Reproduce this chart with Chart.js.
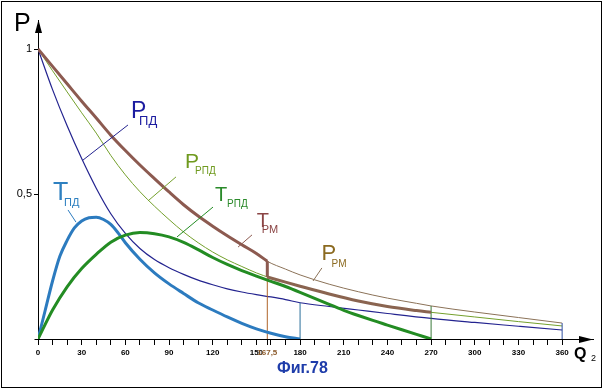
<!DOCTYPE html>
<html><head><meta charset="utf-8">
<script src="https://cdn.jsdelivr.net/npm/chart.js@4/dist/chart.umd.min.js"></script>
<style>html,body{margin:0;padding:0;background:#fff;}#wrap{width:606px;height:391px;}</style>
</head><body><div id="wrap"><canvas id="c" width="606" height="391"></canvas></div>
<script>
// ---------- data ----------
const qPD  = [0,10,20,30,40,50,60,70,80,90,100,110,120,130,140,150,160,170,180,200,220,240,270,300,330,360];
const pPD  = [1,0.86,0.735,0.622,0.52,0.432,0.364,0.312,0.274,0.246,0.223,0.203,0.187,0.173,0.162,0.153,0.145,0.136,0.125,0.112,0.1,0.088,0.071,0.057,0.044,0.031];

const qRPD = [0,10,20,30,40,50,60,70,80,90,100,110,120,130,140,150,160,170,180,200,220,240,260,270,300,330,360];
const pRPD = [1,0.925,0.852,0.78,0.71,0.633,0.566,0.508,0.458,0.412,0.369,0.332,0.3,0.273,0.25,0.228,0.21,0.196,0.182,0.155,0.131,0.112,0.098,0.092,0.076,0.06,0.045];

const qTPD = [0,5,10,15,20,25,30,35,40,45,50,55,60,70,80,90,100,110,120,130,140,150,160,170,180];
const tPD  = [0,0.1,0.2,0.285,0.34,0.383,0.407,0.418,0.42,0.412,0.395,0.366,0.332,0.275,0.228,0.19,0.157,0.125,0.1,0.076,0.054,0.035,0.02,0.008,0];

const qTRPD = [0,10,20,30,40,50,60,70,80,90,100,110,120,130,140,150,160,170,180,190,200,210,220,230,240,250,260,270];
const tRPD  = [0,0.1,0.18,0.243,0.292,0.334,0.358,0.367,0.363,0.352,0.333,0.308,0.281,0.257,0.236,0.217,0.199,0.181,0.161,0.14,0.119,0.099,0.081,0.064,0.048,0.032,0.016,0];

const qTRMa = [0,10,20,30,40,50,60,70,80,90,100,110,120,130,140,150,157.5];
const tRMa  = [1,0.94,0.88,0.82,0.762,0.703,0.65,0.6,0.553,0.507,0.463,0.424,0.389,0.356,0.325,0.295,0.268];

const qTRMb = [157.5,170,180,200,220,240,260,270];
const tRMb  = [0.214,0.196,0.182,0.155,0.131,0.112,0.098,0.092];

const qPRM = qTRMa.concat([170,180,200,220,240,260,270,300,330,360]);
const pRM  = tRMa.concat([0.241,0.221,0.189,0.163,0.141,0.123,0.114,0.093,0.074,0.055]);

const cutX = 157.5;             // position of the "167,5" mark as drawn
const cutLabel = '167,5';
const vLines = [cutX, 180, 270, 360];
const xTickValues = [0,10,20,30,40,50,60,70,80,90,100,110,120,130,140,150,cutX,160,170,180,190,200,210,220,230,240,250,260,270,280,290,300,310,320,330,340,350,360];
const xLabelValues = [0,30,60,90,120,150,180,210,240,270,300,330,360];
const yTickValues = [0.5, 1];

// ---------- helpers ----------
const pts = (qs, vs) => qs.map((q, i) => ({x: q, y: vs[i]}));
const valAt = (qs, vs, q) => vs[qs.indexOf(q)];
const FONT = 'Liberation Sans';

function line(data, color, width, order, smooth = true) {
  return {data, borderColor: color, borderWidth: width, order, pointRadius: 0, fill: false,
          tension: 0, cubicInterpolationMode: smooth ? 'monotone' : 'default', spanGaps: true};
}

const datasets = [
  line(pts(qPRM, pRM), '#8b7258', 1, 9),
  line(pts(qRPD, pRPD), '#74a02c', 1, 8),
  line(pts(qPD, pPD), '#23238f', 1.2, 7),
  line([{x:cutX,y:0},{x:cutX,y:valAt(qTRMa,tRMa,cutX)}], '#b0652a', 1, 6, false),
  line([{x:vLines[1],y:0},{x:vLines[1],y:valAt(qPD,pPD,vLines[1])}], '#2a6f9a', 1, 6, false),
  line([{x:vLines[2],y:0},{x:vLines[2],y:valAt(qPRM,pRM,vLines[2])}], '#3a7a3a', 1, 6, false),
  line([{x:vLines[3],y:0},{x:vLines[3],y:valAt(qPRM,pRM,vLines[3])}], '#3050a0', 1, 6, false),
  line(pts(qTPD, tPD), '#2c7bbf', 3, 3),
  line(pts(qTRPD, tRPD), '#238c23', 3, 2),
  line(pts(qTRMb, tRMb), '#8a6450', 3, 1),
  line([{x:cutX,y:valAt(qTRMa,tRMa,cutX)},{x:cutX,y:tRMb[0]}], '#8c5a50', 3, 1, false),
  line(pts(qTRMa, tRMa), '#8c5a50', 3, 0),
];

// curve labels: main letter, subscript, anchor (data coords), leader line (data coords)
const curveLabels = [
  {m:'P', s:'ПД',  at:[63.9,0.762], ms:23, ss:13, dx:8,  dy:7, c:'#1c1ca0', lc:'#23238f', ln:[[61.8,0.738],[30.9,0.617]]},
  {m:'P', s:'РПД', at:[101,0.59],   ms:21, ss:10, dx:10, dy:6, c:'#6f9a1e', lc:'#74a02c', ln:[[94.8,0.559],[75.5,0.476]]},
  {m:'T', s:'РПД', at:[121.6,0.477],ms:20, ss:10, dx:12, dy:6, c:'#2a8a2a', lc:'#238c23', ln:[[120.2,0.455],[95.5,0.352]]},
  {m:'T', s:'РМ',  at:[150.2,0.385],ms:20, ss:11, dx:5,  dy:6, c:'#8b4545', lc:'#8c5a50', ln:[[147,0.359],[137.4,0.317]]},
  {m:'P', s:'РМ',  at:[194.8,0.272],ms:22, ss:10, dx:10, dy:7, c:'#8b6a20', lc:'#8b7258', ln:[[195,0.245],[188.9,0.2]]},
  {m:'T', s:'ПД',  at:[10.3,0.479], ms:25, ss:11, dx:11, dy:6, c:'#2e80c0', lc:'#2c7bbf', ln:[[20.6,0.445],[26.1,0.403]]},
];

const decor = {
  id: 'decor',
  afterDraw(chart) {
    const {ctx, chartArea: a, scales: {x, y}} = chart;
    ctx.save();
    // frame
    ctx.strokeStyle = '#000'; ctx.lineWidth = 1;
    ctx.strokeRect(1.5, 1.5, 600, 386);
    // axis extension and arrows
    const ax = Math.round(a.left) + 0.5, ay = Math.round(a.bottom) + 0.5;
    ctx.beginPath(); ctx.moveTo(ax - 4, ay); ctx.lineTo(ax, ay); ctx.stroke();
    ctx.fillStyle = '#000';
    ctx.beginPath(); ctx.moveTo(ax, a.top); ctx.lineTo(ax - 3.5, a.top + 13); ctx.lineTo(ax + 3.5, a.top + 13); ctx.closePath(); ctx.fill();
    ctx.beginPath(); ctx.moveTo(a.right, ay); ctx.lineTo(a.right - 14, ay - 3.5); ctx.lineTo(a.right - 14, ay + 3.5); ctx.closePath(); ctx.fill();
    // axis titles
    ctx.textAlign = 'left'; ctx.textBaseline = 'alphabetic';
    ctx.font = `25px "${FONT}"`; ctx.fillText('P', 14, 31);
    ctx.font = `bold 16px "${FONT}"`; ctx.fillText('Q', 574, 359);
    ctx.font = `9px "${FONT}"`; ctx.fillText('2', 591, 361);
    // curve labels
    curveLabels.forEach(L => {
      const px = x.getPixelForValue(L.at[0]), py = y.getPixelForValue(L.at[1]);
      ctx.strokeStyle = L.lc; ctx.lineWidth = 1;
      ctx.beginPath();
      ctx.moveTo(x.getPixelForValue(L.ln[0][0]), y.getPixelForValue(L.ln[0][1]));
      ctx.lineTo(x.getPixelForValue(L.ln[1][0]), y.getPixelForValue(L.ln[1][1]));
      ctx.stroke();
      ctx.fillStyle = L.c;
      ctx.font = `${L.ms}px "${FONT}"`; ctx.fillText(L.m, px, py);
      ctx.font = `${L.ss}px "${FONT}"`; ctx.fillText(L.s, px + L.dx, py + L.dy);
    });
    // figure caption
    ctx.fillStyle = '#1e3caa';
    ctx.font = `bold 16px "${FONT}"`;
    ctx.fillText('Фиг.78', 277, 373);
    ctx.restore();
  }
};

new Chart(document.getElementById('c'), {
  type: 'line',
  data: {datasets},
  options: {
    responsive: false, animation: false, parsing: true,
    layout: {padding: {top: 20, right: 13, left: 0, bottom: 0}},
    plugins: {legend: {display: false}, tooltip: {enabled: false}},
    scales: {
      x: {
        type: 'linear', min: 0, max: 381.2,
        afterBuildTicks: s => { s.ticks = xTickValues.map(v => ({value: v})); },
        afterFit: s => { s.height = 52; },
        grid: {drawOnChartArea: false, drawTicks: true, tickLength: 6, color: '#000'},
        border: {display: true, color: '#000', width: 1},
        ticks: {
          autoSkip: false, maxRotation: 0, minRotation: 0, padding: 3,
          font: {family: FONT, size: 8, weight: 'bold'},
          color: c => (c.tick && c.tick.value === cutX) ? '#8b5a2b' : '#000',
          callback: v => v === cutX ? cutLabel : (xLabelValues.includes(v) ? String(v) : '')
        }
      },
      y: {
        type: 'linear', min: 0, max: 1.1,
        afterBuildTicks: s => { s.ticks = yTickValues.map(v => ({value: v})); },
        afterFit: s => { s.width = 38; },
        grid: {drawOnChartArea: false, drawTicks: true, tickLength: 4, color: '#000'},
        border: {display: true, color: '#000', width: 1},
        ticks: {padding: 2, font: {family: FONT, size: 11}, color: '#000',
                callback: v => String(v).replace('.', ',')}
      }
    }
  },
  plugins: [decor]
});
</script>
</body></html>
